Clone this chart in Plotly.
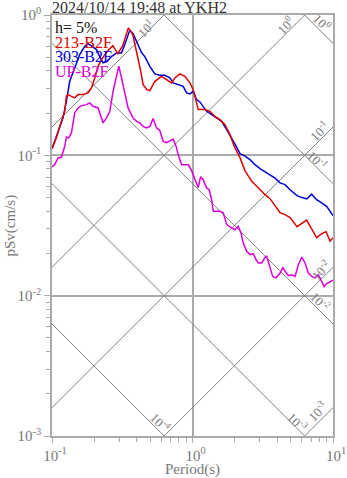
import numpy as np
import plotly.graph_objects as go

# Pseudo-velocity response spectra (h = 5%), period in s, pSv in cm/s
period_213 = [0.100, 0.1075, 0.1167, 0.1232, 0.1266, 0.1300, 0.1375, 0.1451, 0.1532, 0.1663,
              0.1805, 0.1909, 0.2015, 0.2128, 0.2250, 0.2375, 0.2495, 0.2708, 0.2939, 0.3190,
              0.3492, 0.3760, 0.4015, 0.4287, 0.4452, 0.4732, 0.4970, 0.5395, 0.6021, 0.6536,
              0.7096, 0.7491, 0.8132, 0.8827, 0.9583, 1.012, 1.070, 1.098, 1.226, 1.330,
              1.444, 1.568, 1.702, 1.847, 2.005, 2.177, 2.363, 2.638, 2.925, 3.228,
              3.562, 3.867, 4.198, 4.556, 4.946, 5.548, 6.022, 6.484, 7.096, 7.640,
              8.321, 8.929, 9.535, 10.0]
psv_213 = [0.1116, 0.1337, 0.1747, 0.2059, 0.2634, 0.2708, 0.2634, 0.2565, 0.2708, 0.2708,
           0.2785, 0.3022, 0.3561, 0.4309, 0.4810, 0.5222, 0.5573, 0.6050, 0.5308, 0.6050,
           0.8093, 0.7250, 0.5482, 0.3950, 0.3191, 0.2938, 0.2890, 0.3369, 0.3656, 0.3465,
           0.3281, 0.3561, 0.3803, 0.3656, 0.3281, 0.2938, 0.2363, 0.2117, 0.2117, 0.2059,
           0.1897, 0.1796, 0.1655, 0.1404, 0.1129, 0.0963, 0.0778, 0.0653, 0.0589, 0.0533,
           0.0491, 0.0438, 0.0390, 0.0378, 0.0360, 0.0310, 0.0326, 0.0345, 0.02954, 0.0259,
           0.02766, 0.02858, 0.02445, 0.0259]

period_303 = [0.100, 0.1104, 0.1198, 0.1266, 0.1337, 0.1451, 0.1575, 0.1710, 0.1805, 0.1919,
              0.2073, 0.2188, 0.2310, 0.2454, 0.2651, 0.2877, 0.3124, 0.3298, 0.3579, 0.3779,
              0.3995, 0.4337, 0.4578, 0.4970, 0.5395, 0.5857, 0.6358, 0.6901, 0.7284, 0.7907,
              0.8584, 0.9078, 0.9583, 1.012, 1.070, 1.129, 1.192, 1.260, 1.368, 1.485,
              1.612, 1.750, 1.900, 2.062, 2.177, 2.363, 2.566, 2.785, 3.023, 3.281,
              3.562, 3.867, 4.198, 4.556, 4.946, 5.548, 6.022, 6.505, 7.039, 7.640,
              8.321, 9.031, 9.535, 10.0]
psv_303 = [0.1116, 0.1483, 0.1848, 0.2426, 0.3369, 0.4198, 0.5222, 0.5981, 0.6254, 0.6002,
           0.5667, 0.5052, 0.4556, 0.4654, 0.5052, 0.5370, 0.5370, 0.6152, 0.7805, 0.7370,
           0.6461, 0.5396, 0.5052, 0.4309, 0.3803, 0.3716, 0.3716, 0.3561, 0.3281, 0.3191,
           0.3102, 0.2785, 0.2739, 0.2859, 0.2495, 0.2402, 0.2235, 0.2059, 0.1951, 0.1848,
           0.1747, 0.1525, 0.1331, 0.1144, 0.1028, 0.0987, 0.0932, 0.0858, 0.0804, 0.0765,
           0.0729, 0.0688, 0.0636, 0.0618, 0.0569, 0.0516, 0.0500, 0.0489, 0.0529, 0.0483,
           0.0458, 0.0431, 0.0399, 0.0372]

period_up = [0.100, 0.1045, 0.1104, 0.1167, 0.1232, 0.1266, 0.1315, 0.1375, 0.1451, 0.1532,
             0.1621, 0.1759, 0.1857, 0.1960, 0.2128, 0.2188, 0.2310, 0.2441, 0.2577, 0.2721,
             0.2877, 0.2988, 0.3124, 0.3243, 0.3480, 0.3779, 0.4015, 0.4218, 0.4452, 0.4709,
             0.4970, 0.5248, 0.5547, 0.5857, 0.6183, 0.6536, 0.6901, 0.7284, 0.7617, 0.7907,
             0.8363, 0.8827, 0.9319, 0.9854, 1.040, 1.098, 1.142, 1.192, 1.260, 1.315,
             1.368, 1.405, 1.485, 1.568, 1.655, 1.750, 1.900, 2.005, 2.117, 2.213,
             2.298, 2.430, 2.566, 2.708, 2.831, 2.940, 3.109, 3.281, 3.374, 3.521,
             3.723, 3.931, 4.198, 4.388, 4.556, 4.810, 5.087, 5.370, 5.668, 5.993,
             6.326, 6.678, 7.063, 7.456, 7.869, 8.321, 8.641, 9.031, 9.535, 10.0]
psv_up = [0.0827, 0.0858, 0.0958, 0.0968, 0.1159, 0.1352, 0.1331, 0.1444, 0.2005, 0.2177,
          0.2260, 0.2298, 0.2363, 0.2235, 0.2177, 0.1982, 0.1702, 0.1848, 0.2049, 0.2859,
          0.3759, 0.4322, 0.3561, 0.2938, 0.2177, 0.1841, 0.1739, 0.1702, 0.1609, 0.1568,
          0.1609, 0.1827, 0.1568, 0.1500, 0.1258, 0.1232, 0.1266, 0.1305, 0.1172, 0.1012,
          0.0858, 0.0858, 0.0858, 0.0778, 0.0671, 0.0589, 0.0705, 0.0671, 0.0586, 0.0569,
          0.0483, 0.0399, 0.0399, 0.0399, 0.0389, 0.0321, 0.0304, 0.0295, 0.0312, 0.0281,
          0.0237, 0.0207, 0.0196, 0.0199, 0.0181, 0.0171, 0.0171, 0.0187, 0.0191, 0.0162,
          0.0137, 0.0134, 0.0145, 0.0158, 0.0149, 0.0139, 0.0141, 0.0137, 0.0166, 0.0188,
          0.0171, 0.0145, 0.0137, 0.0134, 0.0141, 0.0126, 0.0116, 0.0122, 0.0126, 0.0129]

series_names = ["213-B2F", "303-B2F", "UP-B2F"]
series_colors = ["#dd0000", "#0000dd", "#dd00dd"]

# Tripartite guide lines: displacement D (cm) and acceleration A (cm/s^2)
disp_exponents = [0, -1, -2, -3, -4]
acc_exponents = [1, 0, -1, -2, -3]

x_tickvals = [0.1, 1, 10]
x_ticktext = ["10<sup>-1</sup>", "10<sup>0</sup>", "10<sup>1</sup>"]
y_tickvals = [0.001, 0.01, 0.1, 1]
y_ticktext = ["10<sup>-3</sup>", "10<sup>-2</sup>", "10<sup>-1</sup>", "10<sup>0</sup>"]

title_text = "2024/10/14 19:48 at YKH2"
damping_text = "h= 5%"
x_title = "Period(s)"
y_title = "pSv(cm/s)"

SERIF = "Liberation Serif, Times New Roman, serif"
GRID = "#aaaaaa"
DIAG = "#808080"
LABEL = "#777777"

fig = go.Figure()

t_span = np.array([0.1, 10.0])
for k in disp_exponents:
    D = 10.0 ** k
    fig.add_trace(go.Scatter(x=t_span, y=2 * np.pi * D / t_span, mode="lines",
                             line=dict(color=DIAG, width=1), hoverinfo="skip", showlegend=False))
for k in acc_exponents:
    A = 10.0 ** k
    fig.add_trace(go.Scatter(x=t_span, y=A * t_span / (2 * np.pi), mode="lines",
                             line=dict(color=DIAG, width=1), hoverinfo="skip", showlegend=False))

for (px, py), name, col in zip([(period_up, psv_up), (period_303, psv_303), (period_213, psv_213)],
                               series_names[::-1], series_colors[::-1]):
    fig.add_trace(go.Scatter(x=px, y=py, mode="lines", name=name,
                             line=dict(color=col, width=1.5), showlegend=False))

# labels on the guide lines: (family, exponent, period of label, vertical shift in px)
guide_labels = [
    ("A", 1, 0.466, 5), ("A", 0, 4.56, 10), ("D", 0, 8.36, 10),
    ("A", -1, 7.96, 10), ("D", -1, 7.76, 8), ("A", -2, 8.17, 10),
    ("D", -2, 8.09, 10), ("D", -3, 5.60, 7), ("A", -3, 7.76, 12), ("D", -4, 0.590, 10),
]
annotations = []
for fam, k, T, ys in guide_labels:
    v = 10.0 ** k
    s = 2 * np.pi * v / T if fam == "D" else v * T / (2 * np.pi)
    annotations.append(dict(x=np.log10(T), y=np.log10(s), xref="x", yref="y",
                            text=f"10<sup>{k}</sup>", showarrow=False,
                            textangle=45 if fam == "D" else -45, yshift=ys,
                            font=dict(family=SERIF, size=13, color=LABEL)))

annotations.append(dict(x=0, y=1, xref="paper", yref="paper", xanchor="left", yanchor="bottom",
                        text=title_text, showarrow=False, xshift=-2, yshift=-3,
                        font=dict(family=SERIF, size=16, color="#333333")))

legend_rows = [(damping_text, "#111111")] + list(zip(series_names, series_colors))
for i, (txt, col) in enumerate(legend_rows):
    annotations.append(dict(x=0, y=1, xref="paper", yref="paper", xanchor="left", yanchor="middle",
                            text=txt, showarrow=False, xshift=1, yshift=-(12.7 + 14.6 * i),
                            font=dict(family=SERIF, size=16, color=col)))

# axis titles
annotations.append(dict(x=0.5, y=0, xref="paper", yref="paper", xanchor="center", yanchor="top",
                        text=x_title, showarrow=False, yshift=-23,
                        font=dict(family=SERIF, size=15, color=LABEL)))
annotations.append(dict(x=0, y=0.5, xref="paper", yref="paper", xanchor="center", yanchor="middle",
                        text=y_title, showarrow=False, textangle=-90, xshift=-42,
                        font=dict(family=SERIF, size=15, color=LABEL)))

axis_common = dict(type="log", showline=True, mirror=True, linecolor=GRID, linewidth=1.5,
                   showgrid=True, gridcolor=GRID, gridwidth=1.5, zeroline=False,
                   ticks="outside", ticklen=6, tickcolor=GRID, tickwidth=1,
                   tickmode="array", automargin=False,
                   tickfont=dict(family=SERIF, size=15, color=LABEL),
                   minor=dict(ticks="outside", ticklen=4, tickcolor=GRID, dtick="D1", showgrid=False))

fig.update_layout(
    width=347, height=478,
    margin=dict(l=52, r=14, t=15, b=42),
    paper_bgcolor="white", plot_bgcolor="white",
    xaxis=dict(axis_common, range=[-1, 1], tickvals=x_tickvals, ticktext=x_ticktext,
               ticklabelshift=3, ticklen=5),
    yaxis=dict(axis_common, range=[-3, 0], tickvals=y_tickvals, ticktext=y_ticktext),
    annotations=annotations,
)

fig.write_html("out.html")
